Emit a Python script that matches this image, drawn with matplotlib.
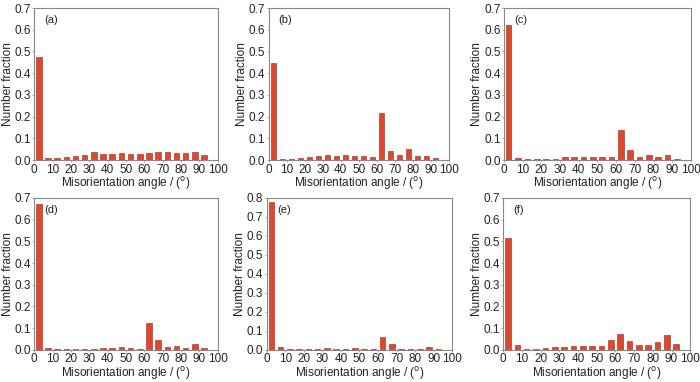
"""
Розподіл кутів розорієнтації меж зерен для шести зразків (a)-(f).
"""

import matplotlib
matplotlib.use('Agg')
import matplotlib.pyplot as plt
import numpy as np

plt.rcParams['font.family'] = ['Liberation Sans', 'DejaVu Sans']

# центри бінів по 5 градусів
angles = np.arange(2.5, 95, 5)

frac_a = [0.476, 0.010, 0.010, 0.015, 0.020, 0.025, 0.035, 0.030, 0.030, 0.032,
          0.030, 0.028, 0.033, 0.038, 0.035, 0.033, 0.033, 0.038, 0.022]
frac_b = [0.445, 0.006, 0.006, 0.010, 0.015, 0.020, 0.025, 0.020, 0.024, 0.020,
          0.019, 0.016, 0.216, 0.040, 0.025, 0.050, 0.018, 0.020, 0.010]
frac_c = [0.620, 0.008, 0.005, 0.005, 0.007, 0.007, 0.015, 0.012, 0.012, 0.012,
          0.012, 0.013, 0.137, 0.045, 0.015, 0.025, 0.015, 0.023, 0.005]
frac_d = [0.670, 0.008, 0.004, 0.004, 0.005, 0.005, 0.006, 0.007, 0.010, 0.012,
          0.007, 0.006, 0.122, 0.045, 0.015, 0.017, 0.010, 0.027, 0.008]
frac_e = [0.780, 0.015, 0.005, 0.005, 0.005, 0.006, 0.008, 0.006, 0.006, 0.008,
          0.005, 0.005, 0.070, 0.030, 0.006, 0.005, 0.005, 0.016, 0.006]
frac_f = [0.515, 0.022, 0.004, 0.005, 0.007, 0.012, 0.014, 0.018, 0.020, 0.020,
          0.018, 0.045, 0.072, 0.042, 0.022, 0.022, 0.038, 0.068, 0.025]

panels = ['(a)', '(b)', '(c)', '(d)', '(e)', '(f)']
fractions = [frac_a, frac_b, frac_c, frac_d, frac_e, frac_f]
y_max = [0.7, 0.7, 0.7, 0.7, 0.8, 0.7]

# [left, bottom, width, height] у частках фігури
boxes = [
    [0.049, 0.581, 0.262, 0.398],
    [0.384, 0.581, 0.257, 0.398],
    [0.720, 0.581, 0.267, 0.398],
    [0.049, 0.084, 0.262, 0.398],
    [0.381, 0.084, 0.265, 0.398],
    [0.719, 0.084, 0.267, 0.398],
]

bar_color = '#e0472c'

fig = plt.figure(figsize=(7, 3.82), dpi=100)

for label, frac, ymax, box in zip(panels, fractions, y_max, boxes):
    ax = fig.add_axes(box)
    ax.bar(angles, frac, width=3.0, color=bar_color, edgecolor='#8a2a1a', linewidth=0.4)
    ax.set_xlim(0, 100)
    ax.set_ylim(0, ymax)
    ax.set_xticks(np.arange(0, 101, 10))
    yt = np.arange(0, ymax + 0.01, 0.1)
    ax.set_yticks(yt)
    ax.set_yticklabels([f'{v:.1f}' for v in yt])
    ax.tick_params(direction='out', length=1.5, width=0.5, labelsize=8.5, pad=1,
                   color='#888888', labelcolor='#222222')
    for s in ax.spines.values():
        s.set_color('#888888')
        s.set_linewidth(0.8)
    ax.set_xlabel('Misorientation angle / ($^\\mathrm{o}$)', fontsize=8.5, labelpad=-0.5,
                  color='#222222')
    ax.set_ylabel('Number fraction', fontsize=8.5, labelpad=0.5, color='#222222')
    ax.text(0.055, 0.955, label, transform=ax.transAxes, fontsize=8, va='top', ha='left',
            color='#222222')

plt.savefig('out.png', dpi=100)
